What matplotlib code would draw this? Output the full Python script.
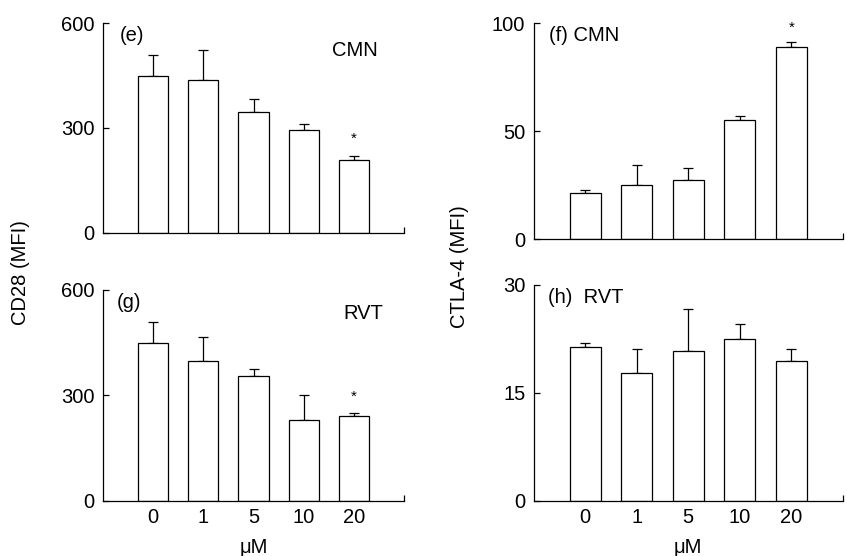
import numpy as np
import matplotlib
matplotlib.use('Agg')
import matplotlib.pyplot as plt

plt.rcParams['font.family'] = ['Liberation Sans', 'DejaVu Sans']

doses = ['0', '1', '5', '10', '20']

# CD28 (MFI)
cd28_cmn = [449, 437, 345, 295, 208]
cd28_cmn_err = [61, 86, 37, 17, 11]
cd28_rvt = [448, 399, 354, 230, 242]
cd28_rvt_err = [60, 67, 22, 71, 8]

# CTLA-4 (MFI)
ctla4_cmn = [21.3, 25.0, 27.3, 55.2, 88.7]
ctla4_cmn_err = [1.4, 9.3, 5.8, 1.6, 2.6]
ctla4_rvt = [21.4, 17.8, 20.8, 22.4, 19.4]
ctla4_rvt_err = [0.5, 3.2, 5.8, 2.1, 1.6]

FS = 14.5

fig = plt.figure(figsize=(8.47, 5.56), dpi=100)

def panel(rect, vals, errs, ymax, show_x):
	ax = fig.add_axes(rect)
	x = np.arange(len(vals))
	ax.bar(x, vals, width=0.6, color='white', edgecolor='black', linewidth=0.9, zorder=2)
	ax.errorbar(x, vals, yerr=[np.zeros(len(vals)), errs], fmt='none', ecolor='black',
				elinewidth=0.9, capsize=3.6, capthick=0.9, zorder=1)
	ax.set_xlim(-1, 5)
	ax.set_ylim(0, ymax)
	ax.set_yticks([0, ymax / 2, ymax])
	ax.set_yticklabels(['%g' % v for v in [0, ymax / 2, ymax]])
	ax.set_xticks(list(x) + [5])
	if show_x:
		ax.set_xticklabels(doses + [''])
	else:
		ax.set_xticklabels([''] * 6)
	ax.spines['top'].set_visible(False)
	ax.spines['right'].set_visible(False)
	for s in ['left', 'bottom']:
		ax.spines[s].set_linewidth(0.9)
		ax.spines[s].set_zorder(3)
	ax.tick_params(direction='in', length=4, width=0.9, labelsize=FS, pad=5)
	ax.tick_params(axis='y', pad=6)
	return ax

ax_e = panel([0.1216, 0.581, 0.3554, 0.3776], cd28_cmn, cd28_cmn_err, 600, False)
ax_f = panel([0.630, 0.5696, 0.365, 0.389], ctla4_cmn, ctla4_cmn_err, 100, False)
ax_g = panel([0.1216, 0.0995, 0.3554, 0.379], cd28_rvt, cd28_rvt_err, 600, True)
ax_h = panel([0.630, 0.0995, 0.365, 0.3885], ctla4_rvt, ctla4_rvt_err, 30, True)

ax_e.text(0.055, 0.94, '(e)', transform=ax_e.transAxes, fontsize=FS, va='center')
ax_e.text(0.76, 0.87, 'CMN', transform=ax_e.transAxes, fontsize=FS, va='center')
ax_e.text(4, 268, '*', ha='center', va='center', fontsize=11)

ax_f.text(0.05, 0.94, '(f) CMN', transform=ax_f.transAxes, fontsize=FS, va='center')
ax_f.text(4, 98, '*', ha='center', va='center', fontsize=11, clip_on=False)

ax_g.text(0.045, 0.94, '(g)', transform=ax_g.transAxes, fontsize=FS, va='center')
ax_g.text(0.80, 0.89, 'RVT', transform=ax_g.transAxes, fontsize=FS, va='center')
ax_g.text(4, 297, '*', ha='center', va='center', fontsize=11)

ax_h.text(0.045, 0.94, '(h)  RVT', transform=ax_h.transAxes, fontsize=FS, va='center')

ax_g.set_xlabel('\u03bcM', fontsize=FS, labelpad=8)
ax_h.set_xlabel('\u03bcM', fontsize=FS, labelpad=8)

fig.text(0.024, 0.51, 'CD28 (MFI)', rotation=90, fontsize=FS, ha='center', va='center')
fig.text(0.543, 0.52, 'CTLA-4 (MFI)', rotation=90, fontsize=FS, ha='center', va='center')

fig.savefig('out.png', dpi=100)
